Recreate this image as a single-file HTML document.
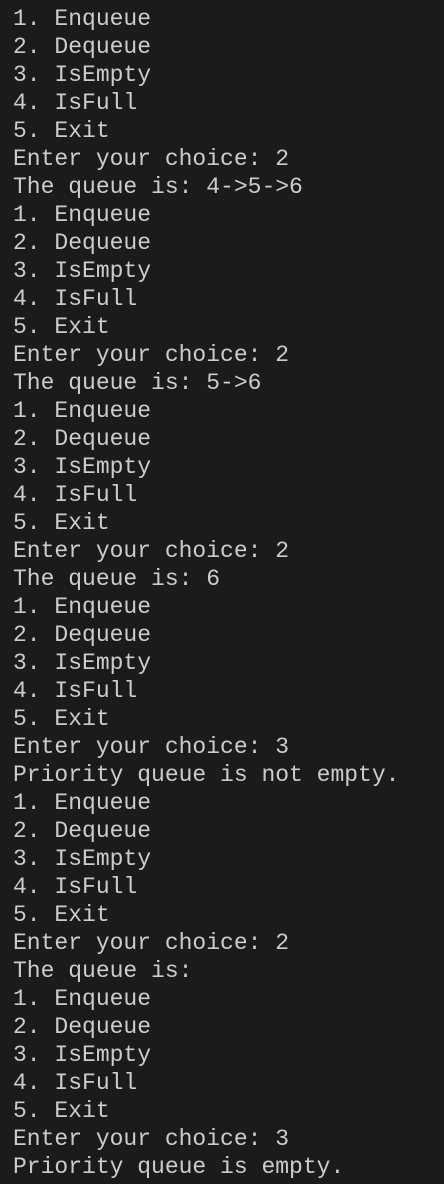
<!DOCTYPE html>
<html><head><meta charset="utf-8"><style>
html,body{margin:0;padding:0;background:#1b1b1b;width:444px;height:1184px;overflow:hidden}
pre{margin:0;position:absolute;left:13px;top:5px;font-family:"Liberation Mono","DejaVu Sans Mono",monospace;font-size:23px;line-height:28px;color:#cccccc}
</style></head><body><pre>1. Enqueue
2. Dequeue
3. IsEmpty
4. IsFull
5. Exit
Enter your choice: 2
The queue is: 4->5->6
1. Enqueue
2. Dequeue
3. IsEmpty
4. IsFull
5. Exit
Enter your choice: 2
The queue is: 5->6
1. Enqueue
2. Dequeue
3. IsEmpty
4. IsFull
5. Exit
Enter your choice: 2
The queue is: 6
1. Enqueue
2. Dequeue
3. IsEmpty
4. IsFull
5. Exit
Enter your choice: 3
Priority queue is not empty.
1. Enqueue
2. Dequeue
3. IsEmpty
4. IsFull
5. Exit
Enter your choice: 2
The queue is:
1. Enqueue
2. Dequeue
3. IsEmpty
4. IsFull
5. Exit
Enter your choice: 3
Priority queue is empty.</pre></body></html>
